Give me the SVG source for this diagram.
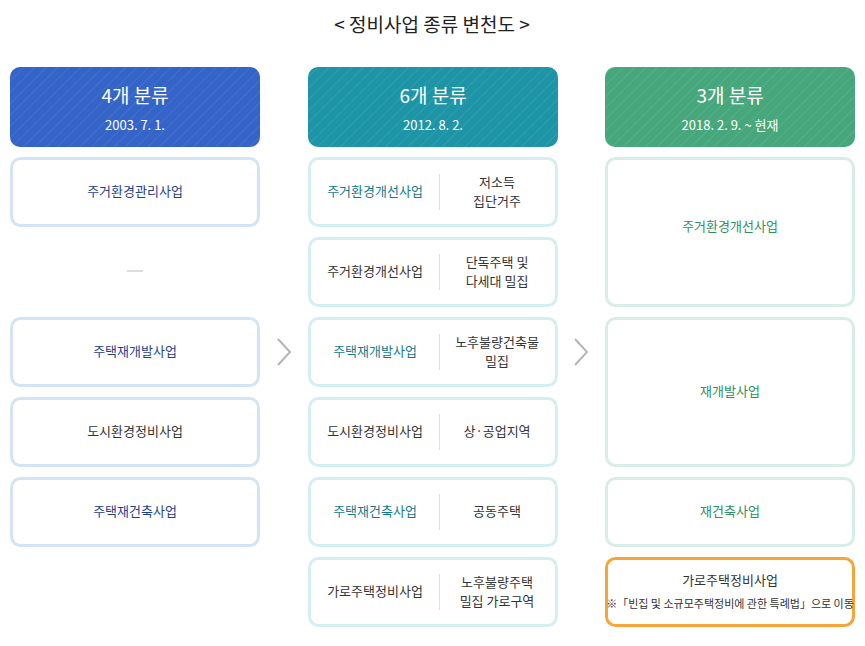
<svg xmlns="http://www.w3.org/2000/svg" width="865" height="646" viewBox="0 0 865 646">
<defs>
<pattern id="st" width="8" height="8" patternUnits="userSpaceOnUse" patternTransform="rotate(45)"><rect width="8" height="8" fill="none"/><line x1="0" y1="0" x2="0" y2="8" stroke="#fff" stroke-opacity="0.08" stroke-width="2"/></pattern>
</defs>
<style>
text{font-family:"Noto Sans CJK KR","Noto Sans",sans-serif;text-anchor:middle;font-size:13px;fill:#333}
.h1{font-size:19px;fill:#fff}
.h2{font-size:13px;fill:#fff}
.b{fill:#fff;stroke-width:3}
.c1{stroke:#d4e4f8}.c2{stroke:#d4eef2}.c3{stroke:#d6eee5}
.tb{fill:#1e3e92}.tt{fill:#147a8a}.tg{fill:#2f8f63}
.dv{stroke:#e0e0e0;stroke-width:1}
.ch{fill:none;stroke:#b5b5b5;stroke-width:2}
</style>
<rect width="865" height="646" fill="#fff"/>
<text x="432" y="32" style="font-size:19px;fill:#222">&lt; 정비사업 종류 변천도 &gt;</text>
<g id="h1"><rect x="10" y="67" width="250" height="80" rx="10" fill="#3464c8"/><rect x="10" y="67" width="250" height="80" rx="10" fill="url(#st)"/><text class="h1" x="135" y="103">4개 분류</text><text class="h2" x="135" y="130">2003. 7. 1.</text></g>
<g id="h2"><rect x="308" y="67" width="250" height="80" rx="10" fill="#1e95a7"/><rect x="308" y="67" width="250" height="80" rx="10" fill="url(#st)"/><text class="h1" x="433" y="103">6개 분류</text><text class="h2" x="433" y="130">2012. 8. 2.</text></g>
<g id="h3"><rect x="605" y="67" width="250" height="80" rx="10" fill="#47a77c"/><rect x="605" y="67" width="250" height="80" rx="10" fill="url(#st)"/><text class="h1" x="730" y="103">3개 분류</text><text class="h2" x="730" y="130">2018. 2. 9. ~ 현재</text></g>

<g id="a1"><rect class="b c1" x="11.5" y="158.5" width="247" height="67" rx="9"/><text class="tb" x="135" y="196">주거환경관리사업</text></g>
<g id="a2"><line x1="127" y1="271" x2="143" y2="271" stroke="#ddd" stroke-width="2"/></g>
<g id="a3"><rect class="b c1" x="11.5" y="318.5" width="247" height="67" rx="9"/><text class="tb" x="135" y="356">주택재개발사업</text></g>
<g id="a4"><rect class="b c1" x="11.5" y="398.5" width="247" height="67" rx="9"/><text x="135" y="436">도시환경정비사업</text></g>
<g id="a5"><rect class="b c1" x="11.5" y="478.5" width="247" height="67" rx="9"/><text class="tb" x="135" y="516">주택재건축사업</text></g>

<g id="b1"><rect class="b c2" x="309.5" y="158.5" width="247" height="67" rx="9"/><line class="dv" x1="439.5" y1="174" x2="439.5" y2="210"/><text class="tt" x="375" y="196">주거환경개선사업</text><text x="497" y="187">저소득</text><text x="497" y="206">집단거주</text></g>
<g id="b2"><rect class="b c2" x="309.5" y="238.5" width="247" height="67" rx="9"/><line class="dv" x1="439.5" y1="254" x2="439.5" y2="290"/><text x="375" y="276">주거환경개선사업</text><text x="497" y="267">단독주택 및</text><text x="497" y="286">다세대 밀집</text></g>
<g id="b3"><rect class="b c2" x="309.5" y="318.5" width="247" height="67" rx="9"/><line class="dv" x1="439.5" y1="334" x2="439.5" y2="370"/><text class="tt" x="375" y="356">주택재개발사업</text><text x="497" y="347">노후불량건축물</text><text x="497" y="366">밀집</text></g>
<g id="b4"><rect class="b c2" x="309.5" y="398.5" width="247" height="67" rx="9"/><line class="dv" x1="439.5" y1="414" x2="439.5" y2="450"/><text x="375" y="436">도시환경정비사업</text><text x="497" y="436">상·공업지역</text></g>
<g id="b5"><rect class="b c2" x="309.5" y="478.5" width="247" height="67" rx="9"/><line class="dv" x1="439.5" y1="494" x2="439.5" y2="530"/><text class="tt" x="375" y="516">주택재건축사업</text><text x="497" y="516">공동주택</text></g>
<g id="b6"><rect class="b c2" x="309.5" y="558.5" width="247" height="67" rx="9"/><line class="dv" x1="439.5" y1="574" x2="439.5" y2="610"/><text x="375" y="596">가로주택정비사업</text><text x="497" y="587">노후불량주택</text><text x="497" y="606">밀집 가로구역</text></g>

<g id="c1"><rect class="b c3" x="606.5" y="158.5" width="247" height="147" rx="9"/><text class="tg" x="730" y="231">주거환경개선사업</text></g>
<g id="c2"><rect class="b c3" x="606.5" y="318.5" width="247" height="147" rx="9"/><text class="tg" x="730" y="396">재개발사업</text></g>
<g id="c3"><rect class="b c3" x="606.5" y="478.5" width="247" height="67" rx="9"/><text class="tg" x="730" y="516">재건축사업</text></g>
<g id="c4"><rect class="b" stroke="#f6a53b" x="606.5" y="558.5" width="247" height="67" rx="9"/><text x="730" y="585">가로주택정비사업</text><text x="730" y="608" style="font-size:11px">※「빈집 및 소규모주택정비에 관한 특례법」으로 이동</text></g>

<g id="connectors"><polyline class="ch" points="278,339 290,352 278,365"/><polyline class="ch" points="575,339 587,352 575,365"/></g>
</svg>
